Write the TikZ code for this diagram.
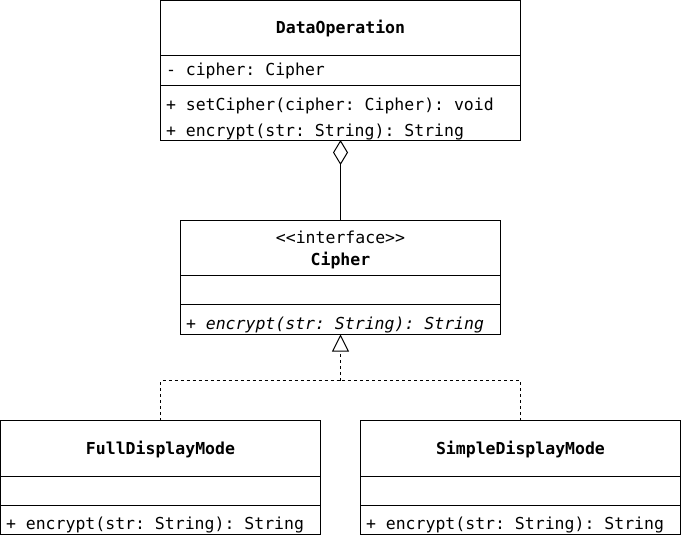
\documentclass[tikz,border=0pt]{standalone}
\usepackage{fontspec}
\setmonofont{DejaVu Sans Mono}
\usetikzlibrary{arrows.meta}
\begin{document}
\begin{tikzpicture}[x=1pt,y=-1pt,line width=1pt,
  box/.style={draw,rectangle,anchor=north west,inner sep=0pt,outer sep=0pt},
  mono/.style={font=\ttfamily\fontsize{16.5}{18}\selectfont,inner sep=0pt},
  ltxt/.style={mono,anchor=base west},
  ctxt/.style={mono,anchor=base},
  dashline/.style={dash pattern=on 3pt off 3pt}]
\useasboundingbox (0,0) rectangle (681,536);
% DataOperation
\node[box,minimum width=360pt,minimum height=139.5pt] (dataop) at (160.5,0.5) {};
\draw (160.5,55.5) -- (520.5,55.5);
\draw (160.5,85.5) -- (520.5,85.5);
\node[ctxt] (dname) at (340.5,33) {\bfseries DataOperation};
\node[ltxt] (dattr) at (165.5,75) {- cipher: Cipher};
\node[ltxt] (dop1) at (165.5,110) {+ setCipher(cipher: Cipher): void};
\node[ltxt] (dop2) at (165.5,136) {+ encrypt(str: String): String};
% Cipher
\node[box,minimum width=320pt,minimum height=114pt] (cipher) at (180.5,220.5) {};
\draw (180.5,275.5) -- (500.5,275.5);
\draw (180.5,304.5) -- (500.5,304.5);
\node[ctxt] (cster) at (340.5,243) {<<interface>>};
\node[ctxt] (cname) at (340.5,265) {\bfseries Cipher};
\node[ltxt] (cop) at (185.5,329) {\itshape + encrypt(str: String): String};
% FullDisplayMode
\node[box,minimum width=320pt,minimum height=114pt] (full) at (0.5,420.5) {};
\draw (0.5,476.5) -- (320.5,476.5);
\draw (0.5,505.5) -- (320.5,505.5);
\node[ctxt] (fname) at (160.5,454) {\bfseries FullDisplayMode};
\node[ltxt] (fop) at (5.5,529) {+ encrypt(str: String): String};
% SimpleDisplayMode
\node[box,minimum width=320pt,minimum height=114pt] (simple) at (360.5,420.5) {};
\draw (360.5,476.5) -- (680.5,476.5);
\draw (360.5,505.5) -- (680.5,505.5);
\node[ctxt] (sname) at (520.5,454) {\bfseries SimpleDisplayMode};
\node[ltxt] (sop) at (365.5,529) {+ encrypt(str: String): String};
% connectors
\draw[-{Diamond[open,length=25pt,width=15pt]}] (cipher.north) -- (dataop.south);
\coordinate (j) at (340.5,380.5);
\draw[dashline] (full.north) |- (j);
\draw[dashline] (simple.north) |- (j);
\draw[dashline,-{Triangle[open,length=17pt,width=17pt]}] (j) -- (cipher.south);
\end{tikzpicture}
\end{document}
